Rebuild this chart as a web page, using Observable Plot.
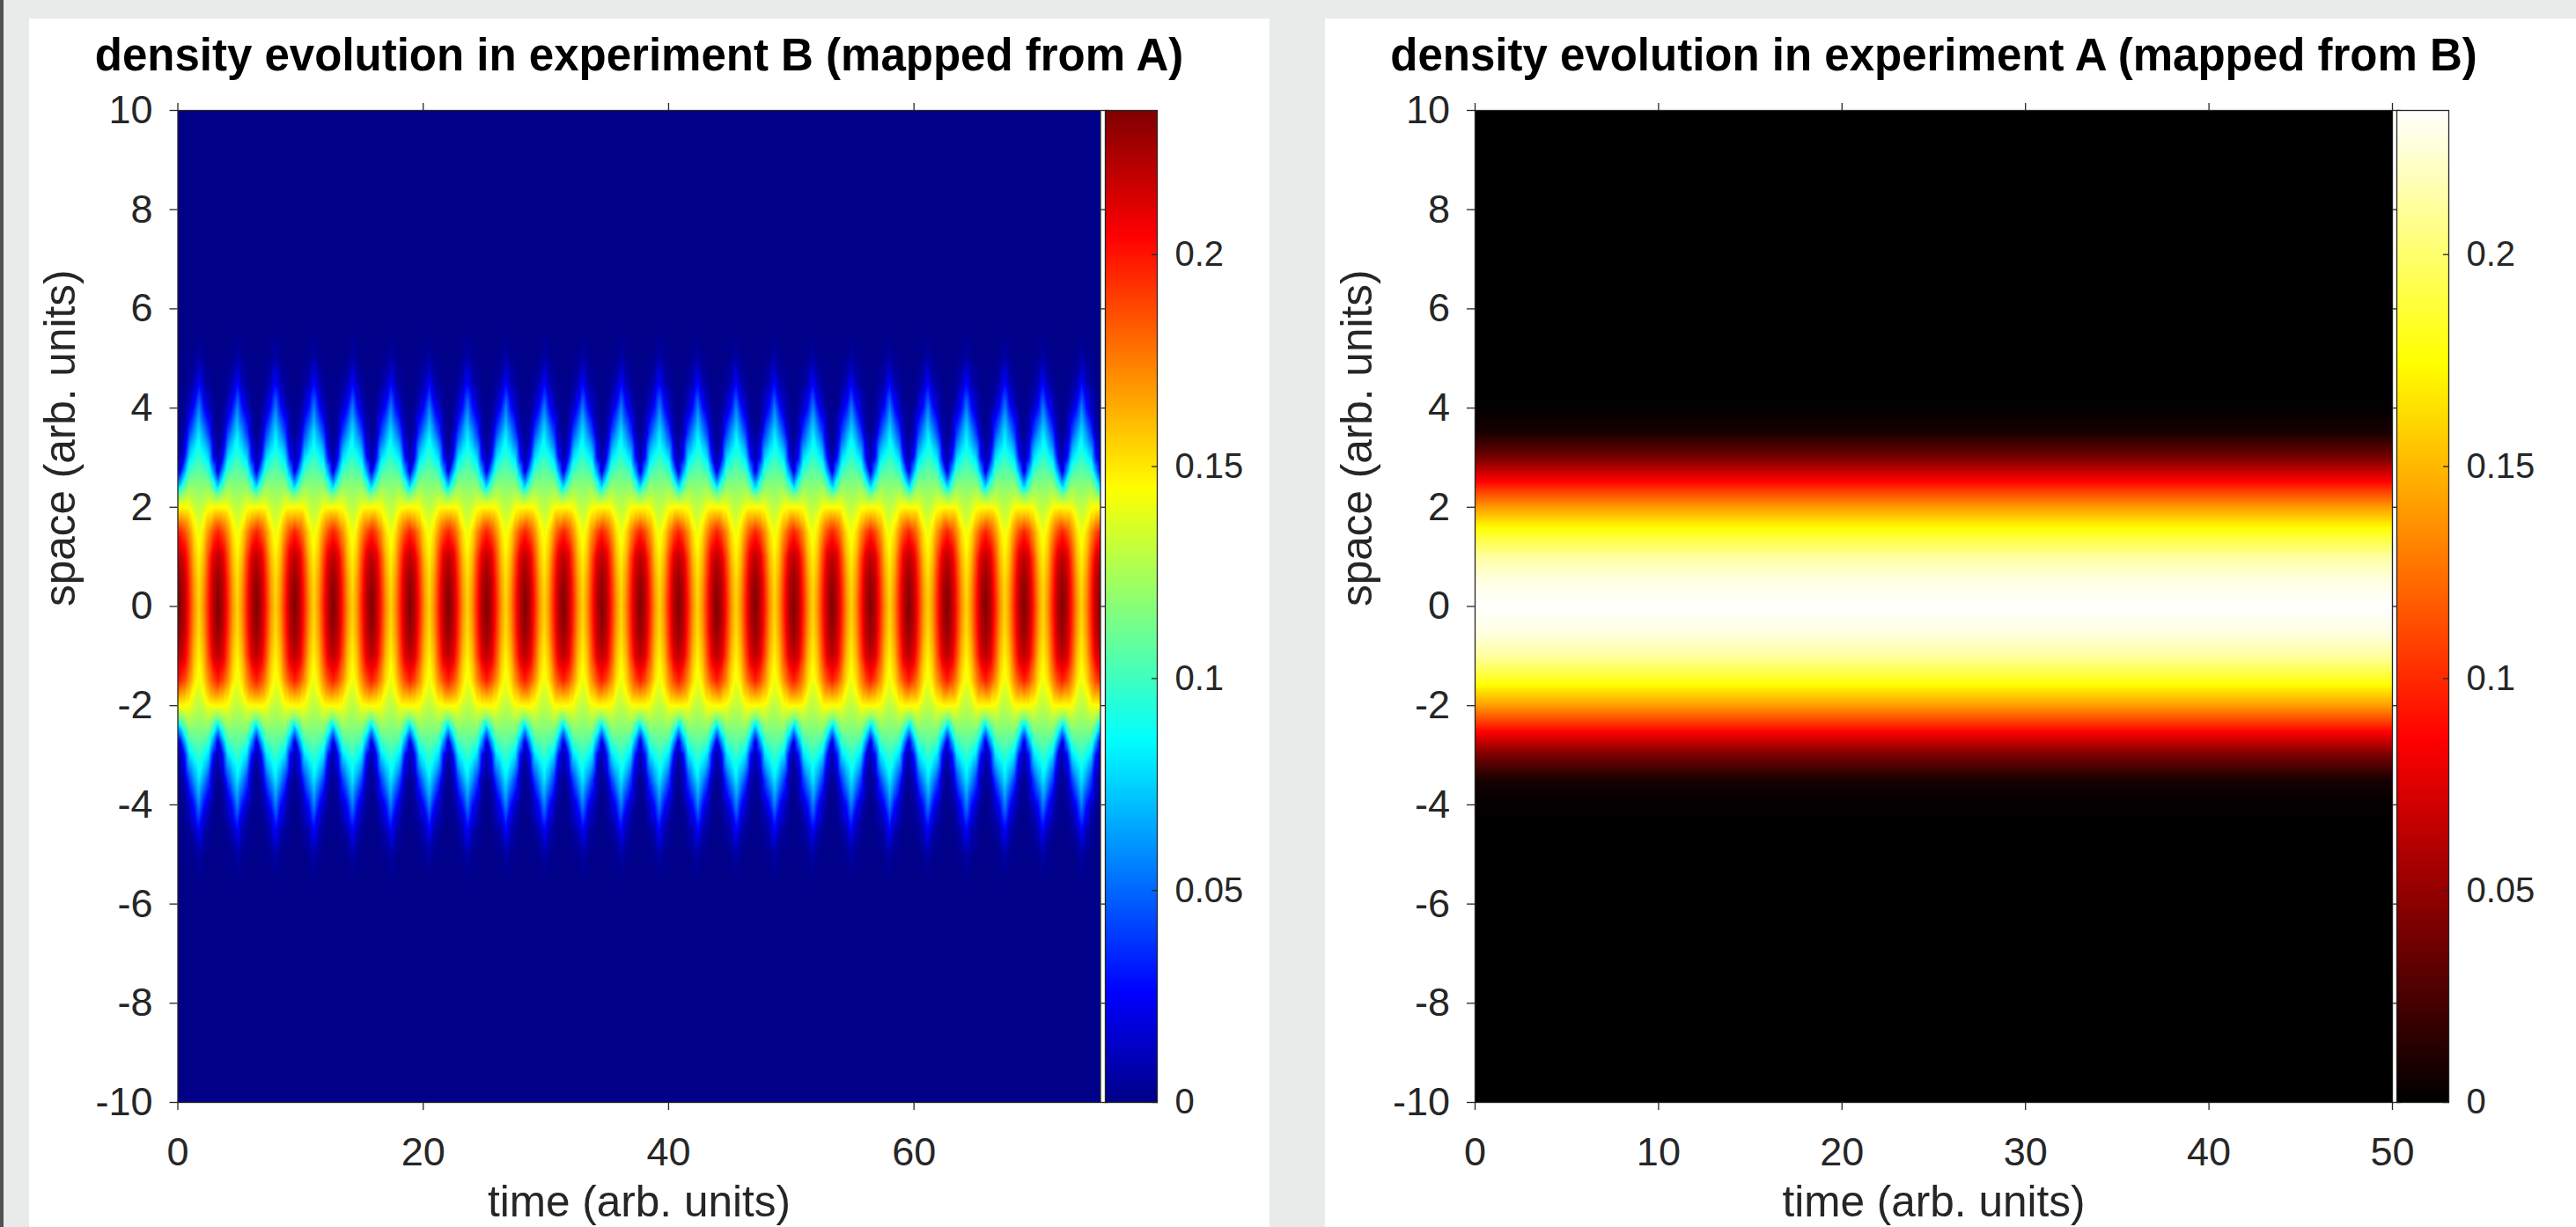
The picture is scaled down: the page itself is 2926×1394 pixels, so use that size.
<!DOCTYPE html>
<html><head><meta charset="utf-8">
<script src="https://cdn.jsdelivr.net/npm/d3@7"></script>
<script src="https://cdn.jsdelivr.net/npm/@observablehq/plot@0.6"></script>
<style>
html,body{margin:0;padding:0;}
body{width:2926px;height:1394px;background:#e9ebeb;position:relative;overflow:hidden;font-family:"Liberation Sans",Arial,Helvetica,sans-serif;}
#strip{position:absolute;left:0;top:0;width:4px;height:1394px;background:#4d5254;}
.panel{position:absolute;top:21px;height:1373px;background:#fff;}
.abs{position:absolute;}
.abs svg{display:block;overflow:visible;}
</style></head><body>
<div id="strip"></div>
<div class="panel" style="left:33px;width:1409px"></div>
<div class="panel" style="left:1505px;width:1421px"></div>
<div id="mainB" class="abs" style="left:33px;top:21px"></div>
<div id="cbB" class="abs" style="left:1255px;top:0px"></div>
<div id="mainA" class="abs" style="left:1505px;top:21px"></div>
<div id="cbA" class="abs" style="left:2722px;top:0px"></div>
<script>
// ---------- data ----------
const titleB = "density evolution in experiment B (mapped from A)";
const titleA = "density evolution in experiment A (mapped from B)";
const xLabel = "time (arb. units)";
const yLabel = "space (arb. units)";

const xTicksB = [0, 20, 40, 60];
const xTicksA = [0, 10, 20, 30, 40, 50];
const yTicks = [-10, -8, -6, -4, -2, 0, 2, 4, 6, 8, 10];
const colorbarTicks = [0, 0.05, 0.1, 0.15, 0.2];
const densityMax = 0.234;
const timeEndB = 75.2;
const timeEndA = 50;

// |space| sample positions (profiles are mirror-symmetric)
const spaceGrid = [0, 0.5, 1, 1.5, 2, 2.25, 2.5, 2.75, 3, 3.5, 4, 4.5, 5, 5.5, 6, 7, 8, 10];

// experiment B: times of maximum compression (dark-red stripes)
const peakTimesB = [0.15, 3.28, 6.41, 9.53, 12.66, 15.79, 18.92, 22.05, 25.17, 28.30, 31.43, 34.56,
  37.69, 40.81, 43.94, 47.07, 50.20, 53.33, 56.45, 59.58, 62.71, 65.84, 68.97, 72.09, 75.22];
// fraction of the way from a peak to the next one, for each profile below (0 = peak, 0.5 = widest)
const phaseFractions = [0, 0.125, 0.25, 0.375, 0.5];
const densityB_phase0 = [0.234, 0.229, 0.220, 0.197, 0.145, 0.112, 0.059, 0.016, 0.006, 0.002, 0.001, 0, 0, 0, 0, 0, 0, 0];
const densityB_phase1 = [0.222, 0.220, 0.211, 0.187, 0.145, 0.122, 0.094, 0.059, 0.028, 0.009, 0.003, 0.001, 0, 0, 0, 0, 0, 0];
const densityB_phase2 = [0.197, 0.194, 0.187, 0.171, 0.143, 0.129, 0.115, 0.098, 0.077, 0.040, 0.014, 0.004, 0.001, 0, 0, 0, 0, 0];
const densityB_phase3 = [0.171, 0.168, 0.161, 0.152, 0.133, 0.124, 0.115, 0.103, 0.089, 0.061, 0.030, 0.010, 0.002, 0, 0, 0, 0, 0];
const densityB_phase4 = [0.154, 0.152, 0.147, 0.140, 0.129, 0.122, 0.115, 0.108, 0.098, 0.080, 0.056, 0.026, 0.007, 0.001, 0, 0, 0, 0];

// experiment A: stationary profile
const timesA = [0, 50];
const densityA = [0.234, 0.228, 0.212, 0.181, 0.140, 0.115, 0.088, 0.064, 0.040, 0.008, 0.001, 0, 0, 0, 0, 0, 0, 0];

// colormaps (MATLAB jet and hot)
const jetStops = [0, 0.111, 0.365, 0.619, 0.873, 1];
const jetColors = ["#000088", "#0000ff", "#00ffff", "#ffff00", "#ff0000", "#800000"];
const hotStops = [0, 0.365, 0.746, 1];
const hotColors = ["#000000", "#ff0000", "#ffff00", "#ffffff"];

// ---------- build tables ----------
const profilesB = [densityB_phase0, densityB_phase1, densityB_phase2, densityB_phase3, densityB_phase4];
function pushColumn(arr, t, profile) {
  spaceGrid.forEach((s, i) => {
    arr.push({time: t, space: s, density: profile[i]});
    if (s !== 0) arr.push({time: t, space: -s, density: profile[i]});
  });
}
const peaksExt = [peakTimesB[0] - (peakTimesB[1] - peakTimesB[0]), ...peakTimesB,
  peakTimesB[peakTimesB.length - 1] + (peakTimesB[peakTimesB.length - 1] - peakTimesB[peakTimesB.length - 2])];
const pointsB = [];
for (let k = 0; k < peaksExt.length - 1; k++) {
  const p = peaksExt[k], q = peaksExt[k + 1];
  phaseFractions.forEach((f, j) => pushColumn(pointsB, p + f * (q - p), profilesB[j]));
  phaseFractions.slice(1, 4).forEach((f, j) => pushColumn(pointsB, q - f * (q - p), profilesB[j + 1]));
}
pushColumn(pointsB, peaksExt[peaksExt.length - 1], profilesB[0]);

const pointsA = [];
timesA.forEach(t => pushColumn(pointsA, t, densityA));

// ---------- drawing ----------
const FONT = "Liberation Sans, Arial, Helvetica, sans-serif";
const INK = "#262626";
const fmt = d => `${d}`;

function colorScale(stops, colors) {
  return {type: "linear", domain: stops.map(u => u * densityMax), range: colors, interpolate: "rgb", clamp: true};
}

function mainPlot({points, width, marginLeft, marginRight, xEnd, xTicks, title, color}) {
  return Plot.plot({
    width, height: 1373,
    marginLeft, marginRight, marginTop: 104, marginBottom: 142,
    x: {domain: [0, xEnd], axis: null},
    y: {domain: [-10, 10], axis: null},
    color,
    style: {fontFamily: FONT, color: INK, background: "none", overflow: "visible"},
    marks: [
      Plot.raster(points, {x: "time", y: "space", fill: "density", interpolate: "barycentric",
        x1: 0, x2: xEnd, y1: -10, y2: 10}),
      Plot.frame({stroke: INK, strokeWidth: 1.3}),
      Plot.axisX(xTicks, {anchor: "bottom", tickSize: 9, tickPadding: 31, fontSize: 45, label: null, tickFormat: fmt, strokeWidth: 1.3, stroke: INK, fill: INK}),
      Plot.axisX(xTicks, {anchor: "top", tickSize: 9, label: null, tickFormat: () => "", strokeWidth: 1.3, stroke: INK}),
      Plot.axisY(yTicks, {anchor: "left", tickSize: 9, tickPadding: 19.5, fontSize: 45, label: null, tickFormat: fmt, strokeWidth: 1.3, stroke: INK, fill: INK}),
      Plot.axisY(yTicks, {anchor: "right", tickSize: 9, label: null, tickFormat: () => "", strokeWidth: 1.3, stroke: INK}),
      Plot.text([title], {frameAnchor: "top", lineAnchor: "bottom", dy: -46, fontSize: 51, fontWeight: "bold", fill: "#000"}),
      Plot.text([xLabel], {frameAnchor: "bottom", lineAnchor: "bottom", dy: 129, fontSize: 49.5, fill: INK}),
      Plot.text([yLabel], {frameAnchor: "left", lineAnchor: "bottom", rotate: -90, dx: -117.5, fontSize: 49.5, fill: INK})
    ]
  });
}

function colorbar(color) {
  return Plot.plot({
    width: 59 + 140, height: 1394,
    marginLeft: 0, marginRight: 140, marginTop: 125, marginBottom: 142,
    x: {domain: [0, 1], axis: null},
    y: {domain: [0, densityMax], axis: null},
    color,
    style: {fontFamily: FONT, color: INK, background: "none", overflow: "visible"},
    marks: [
      Plot.raster({x1: 0, x2: 1, y1: 0, y2: densityMax, width: 2, height: 600, fill: (x, y) => y, imageRendering: "auto"}),
      Plot.frame({stroke: INK, strokeWidth: 1.3}),
      Plot.axisY(colorbarTicks, {anchor: "right", tickSize: 7, dx: -7, label: null, tickFormat: () => "", strokeWidth: 1.3, stroke: INK}),
      Plot.axisY(colorbarTicks, {anchor: "right", tickSize: 0, tickPadding: 20, fontSize: 40, label: null, tickFormat: fmt, fill: INK})
    ]
  });
}

const jet = colorScale(jetStops, jetColors);
const hot = colorScale(hotStops, hotColors);

document.getElementById("mainB").append(mainPlot({points: pointsB, width: 1409, marginLeft: 168.5, marginRight: 192.5,
  xEnd: timeEndB, xTicks: xTicksB, title: titleB, color: jet}));
document.getElementById("cbB").append(colorbar(jet));
document.getElementById("mainA").append(mainPlot({points: pointsA, width: 1421, marginLeft: 170, marginRight: 209,
  xEnd: timeEndA, xTicks: xTicksA, title: titleA, color: hot}));
document.getElementById("cbA").append(colorbar(hot));
</script>
</body></html>
